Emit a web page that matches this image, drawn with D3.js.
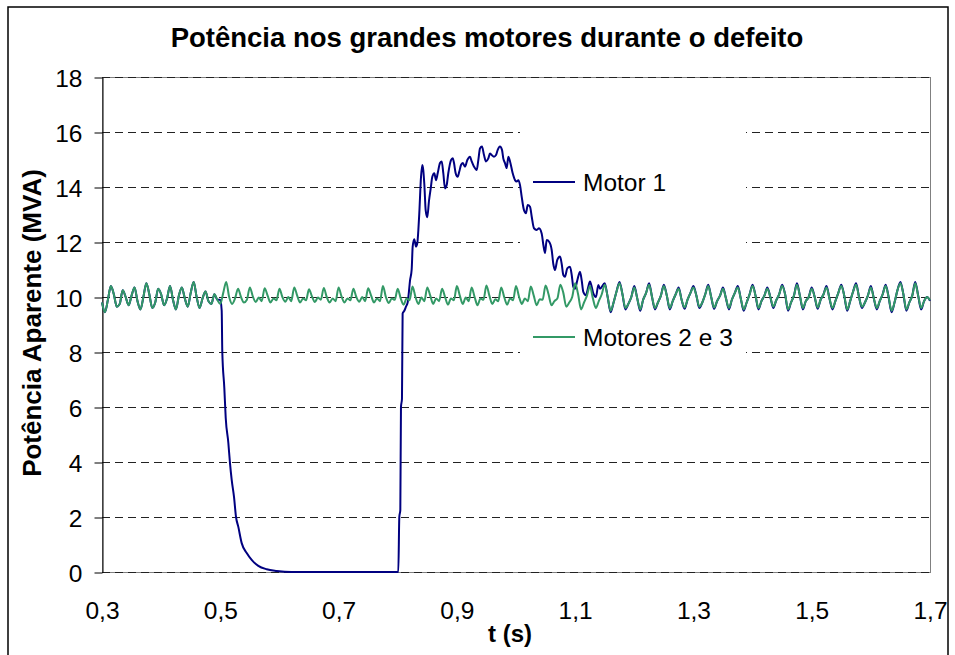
<!DOCTYPE html>
<html>
<head>
<meta charset="utf-8">
<script src="https://cdn.jsdelivr.net/npm/d3@7"></script>
<style>
  html, body { margin: 0; padding: 0; background: #fff; }
  svg { display: block; font-family: "Liberation Sans", Arial, Helvetica, sans-serif; }
</style>
</head>
<body>
<svg id="chart" width="955" height="655"></svg>
<script>
// ---- texts ----
const chartTitle = "Potência nos grandes motores durante o defeito";
const yTitle = "Potência Aparente (MVA)";
const xTitle = "t (s)";
const seriesNames = ["Motor 1", "Motores 2 e 3"];

// ---- axes ----
const xTicks = [0.3, 0.5, 0.7, 0.9, 1.1, 1.3, 1.5, 1.7];
const yTicks = [0, 2, 4, 6, 8, 10, 12, 14, 16, 18];

// ---- sampling of the regular traces (s) ----
const tStart = 0.3;
const tStep = 0.005;

// Motores 2 e 3 : apparent power (MVA), one value every 5 ms from 0.300 s to 1.700 s
const motores23 = [
  9.80, 9.45, 9.90, 10.40, 10.10, 9.65, 9.75, 10.25, 10.00, 9.70,
  10.05, 10.35, 9.85, 9.55, 10.00, 10.50, 10.10, 9.60, 9.80, 10.30,
  10.10, 9.70, 9.95, 10.40, 9.90, 9.55, 10.05, 10.35, 9.95, 9.65,
  10.15, 10.55, 10.00, 9.60, 9.95, 10.20, 9.85, 9.75, 10.10, 9.90,
  9.75, 10.15, 10.55, 10.00, 9.75, 9.95, 10.30, 10.00, 9.80, 9.90,
  10.35, 10.02, 9.82, 9.98, 9.85, 10.32, 10.05, 9.80, 9.95, 9.88,
  10.30, 10.00, 9.83, 10.00, 9.85, 10.35, 10.05, 9.80, 9.95, 9.88,
  10.28, 10.02, 9.82, 9.98, 9.90, 10.33, 10.00, 9.80, 9.95, 9.85,
  10.35, 10.02, 9.80, 9.95, 9.88, 10.30, 10.00, 9.83, 10.00, 9.85,
  10.32, 10.05, 9.80, 9.95, 9.85, 10.40, 10.00, 9.78, 9.95, 9.90,
  10.30, 9.95, 9.72, 9.95, 9.88, 10.38, 10.00, 9.75, 9.98, 9.85,
  10.35, 10.05, 9.75, 9.95, 9.85, 10.30, 10.00, 9.72, 9.95, 9.88,
  10.40, 10.05, 9.75, 9.98, 9.85, 10.35, 10.00, 9.70, 9.95, 9.90,
  10.42, 10.05, 9.75, 9.92, 9.85, 10.35, 10.00, 9.72, 9.95, 9.88,
  10.40, 10.02, 9.75, 9.95, 9.85, 10.38, 10.05, 9.70, 9.92, 9.90,
  10.42, 10.10, 9.70, 9.85, 9.95, 10.45, 10.15, 9.65, 9.80, 10.00,
  10.50, 10.10, 9.55, 9.80, 10.05, 10.40, 9.95, 9.60, 9.85, 10.10,
  10.45, 10.00, 9.50, 9.80, 10.20, 10.50, 10.10, 9.60, 9.75, 10.00,
  10.35, 9.95, 9.55, 9.90, 10.15, 10.45, 10.00, 9.60, 9.80, 10.05,
  10.40, 10.05, 9.60, 9.85, 10.10, 10.30, 9.90, 9.62, 9.90, 10.15,
  10.35, 10.05, 9.65, 9.80, 10.10, 10.40, 10.00, 9.62, 9.85, 10.05,
  10.30, 9.95, 9.60, 9.90, 10.15, 10.35, 9.95, 9.55, 9.80, 10.10,
  10.40, 10.05, 9.60, 9.85, 10.05, 10.30, 10.00, 9.65, 9.88, 10.10,
  10.40, 10.10, 9.55, 9.80, 10.05, 10.45, 10.05, 9.60, 9.85, 10.00,
  10.30, 10.00, 9.62, 9.90, 10.10, 10.35, 9.95, 9.60, 9.85, 10.15,
  10.40, 10.05, 9.55, 9.85, 10.20, 10.45, 10.00, 9.65, 9.80, 10.05,
  10.35, 9.95, 9.60, 9.85, 10.10, 10.40, 10.00, 9.50, 9.80, 10.25,
  10.50, 10.10, 9.55, 9.80, 10.05, 10.50, 10.05, 9.60, 9.85, 10.00,
  9.88
];

// Motor 1 : before the fault it carries the same load as motors 2 and 3
const motor1FaultStart = 0.5;
// Motor 1 during the fault and the re-acceleration: [t (s), MVA]
const motor1Fault = [
  [0.5000, 9.90], [0.5024, 9.50], [0.5034, 8.00], [0.5068, 6.70], [0.5092, 5.60],
  [0.5136, 4.70], [0.5164, 3.96], [0.5193, 3.35], [0.5232, 2.73], [0.5266, 2.00],
  [0.5305, 1.64], [0.5362, 1.05], [0.5447, 0.69], [0.5531, 0.44], [0.5643, 0.22],
  [0.5785, 0.10], [0.5954, 0.04], [0.6200, 0.00], [0.8010, 0.00], [0.8027, 2.00],
  [0.8044, 2.25], [0.8055, 6.00], [0.8072, 6.30], [0.8083, 9.40], [0.8112, 9.50],
  [0.8140, 9.65], [0.8168, 9.80], [0.8185, 10.10], [0.8208, 10.60], [0.8236, 11.00],
  [0.8253, 11.83], [0.8280, 12.10], [0.8309, 11.83], [0.8331, 11.95], [0.8348, 12.40],
  [0.8365, 13.05], [0.8394, 14.37], [0.8416, 14.80], [0.8433, 14.60], [0.8450, 14.10],
  [0.8473, 13.15], [0.8500, 12.90], [0.8529, 13.50], [0.8558, 13.95], [0.8585, 14.37],
  [0.8619, 14.50], [0.8647, 14.25], [0.8676, 14.50], [0.8715, 14.87], [0.8744, 14.93],
  [0.8771, 14.50], [0.8800, 13.95], [0.8828, 14.07], [0.8855, 14.50], [0.8901, 14.98],
  [0.8930, 15.05], [0.8952, 14.87], [0.8980, 14.50], [0.9014, 14.37], [0.9041, 14.56],
  [0.9070, 14.80], [0.9099, 14.87], [0.9138, 14.74], [0.9177, 14.98], [0.9222, 15.10],
  [0.9251, 14.93], [0.9290, 14.74], [0.9336, 14.62], [0.9363, 14.98], [0.9391, 15.40],
  [0.9425, 15.47], [0.9459, 15.16], [0.9493, 14.93], [0.9532, 15.04], [0.9560, 15.22],
  [0.9589, 15.16], [0.9628, 15.10], [0.9662, 15.16], [0.9691, 15.35], [0.9729, 15.47],
  [0.9763, 15.35], [0.9785, 15.04], [0.9814, 14.87], [0.9843, 14.69], [0.9870, 15.10],
  [0.9899, 14.93], [0.9944, 14.50], [0.9983, 14.25], [1.0012, 14.20], [1.0039, 14.25],
  [1.0068, 14.07], [1.0096, 13.65], [1.0135, 13.16], [1.0169, 13.05], [1.0198, 13.35],
  [1.0237, 13.28], [1.0266, 12.92], [1.0304, 12.50], [1.0350, 12.44], [1.0389, 12.50],
  [1.0435, 12.30], [1.0462, 11.90], [1.0490, 11.60], [1.0519, 12.07], [1.0563, 12.00],
  [1.0604, 11.70], [1.0631, 11.20], [1.0659, 10.98], [1.0698, 11.35], [1.0744, 11.47],
  [1.0773, 11.20], [1.0800, 10.80], [1.0828, 10.74], [1.0867, 11.04], [1.0913, 11.10],
  [1.0942, 10.80], [1.0969, 10.37], [1.0997, 10.30], [1.1036, 10.60], [1.1082, 10.92],
  [1.1111, 10.60], [1.1138, 10.19], [1.1183, 10.07], [1.1222, 10.37], [1.1251, 10.56],
  [1.1280, 10.37], [1.1307, 10.13], [1.1352, 10.00], [1.1392, 10.44], [1.1420, 10.30]
];
// Motor 1 after recovery, one value every 5 ms from 1.150 s to 1.700 s
const motor1TailStart = 1.15;
const motor1Tail = [
  10.50, 10.00, 9.45, 9.80, 10.20, 10.55, 10.10, 9.55, 9.75, 10.00,
  10.40, 9.95, 9.50, 9.90, 10.15, 10.50, 10.00, 9.55, 9.80, 10.05,
  10.45, 10.05, 9.55, 9.85, 10.10, 10.35, 9.90, 9.57, 9.90, 10.15,
  10.40, 10.05, 9.60, 9.80, 10.10, 10.45, 10.00, 9.57, 9.85, 10.05,
  10.35, 9.95, 9.55, 9.90, 10.15, 10.40, 9.95, 9.50, 9.80, 10.10,
  10.45, 10.05, 9.55, 9.85, 10.05, 10.35, 10.00, 9.60, 9.88, 10.10,
  10.45, 10.10, 9.50, 9.80, 10.05, 10.50, 10.05, 9.55, 9.85, 10.00,
  10.35, 10.00, 9.57, 9.90, 10.10, 10.40, 9.95, 9.55, 9.85, 10.15,
  10.45, 10.05, 9.50, 9.85, 10.20, 10.50, 10.00, 9.60, 9.80, 10.05,
  10.40, 9.95, 9.55, 9.85, 10.10, 10.45, 10.00, 9.45, 9.80, 10.25,
  10.55, 10.10, 9.50, 9.80, 10.05, 10.55, 10.05, 9.55, 9.85, 10.00,
  9.86
];

// ---- colours ----
const colMotor1 = "#000080";
const colMotores23 = "#339966";

// ---- build point lists ----
const green = motores23.map((v, i) => [tStart + i * tStep, v]);
const blue = []
  .concat(green.filter(d => d[0] < motor1FaultStart - 1e-9))
  .concat(motor1Fault)
  .concat(motor1Tail.map((v, i) => [motor1TailStart + i * tStep, v]));

// ---- layout ----
const svg = d3.select("#chart");
const W = 955, H = 655;
const plot = { left: 102, right: 930, top: 77, bottom: 572 };
const fontAxis = 24.5;

const x = d3.scaleLinear().domain([0.3, 1.7]).range([plot.left, plot.right]);
const y = d3.scaleLinear().domain([0, 18]).range([plot.bottom, plot.top]);

svg.append("rect").attr("width", W).attr("height", H).attr("fill", "#fff");

// outer chart frame
svg.append("rect")
  .attr("x", 8).attr("y", 7)
  .attr("width", 940).attr("height", 660)
  .attr("fill", "none").attr("stroke", "#000").attr("stroke-width", 1.5);

// plot area border
svg.append("rect")
  .attr("x", plot.left + 0.5).attr("y", plot.top + 0.5)
  .attr("width", plot.right - plot.left).attr("height", plot.bottom - plot.top)
  .attr("fill", "none").attr("stroke", "#808080").attr("stroke-width", 1)
  .attr("shape-rendering", "crispEdges");

// horizontal dashed gridlines
svg.append("g").selectAll("line").data(yTicks).join("line")
  .attr("x1", plot.left).attr("x2", plot.right)
  .attr("y1", d => Math.round(y(d)) + 0.5).attr("y2", d => Math.round(y(d)) + 0.5)
  .attr("stroke", "#222").attr("stroke-width", 1)
  .attr("stroke-dasharray", "8,5")
  .attr("shape-rendering", "crispEdges");

// legend background (hides the gridlines behind the legend)
const legendBox = { x: 520, y: 100, w: 226, h: 285 };
svg.append("rect")
  .attr("x", legendBox.x).attr("y", legendBox.y)
  .attr("width", legendBox.w).attr("height", legendBox.h)
  .attr("fill", "#fff");

// y axis
const yAxis = d3.axisLeft(y).tickValues(yTicks).tickSize(8).tickSizeOuter(0).tickPadding(12);
const gy = svg.append("g")
  .attr("transform", `translate(${plot.left + 0.5},0.5)`)
  .call(yAxis);
gy.select(".domain").attr("stroke", "#000").attr("stroke-width", 1);
gy.selectAll(".tick line").attr("stroke", "#000");
gy.selectAll(".tick text")
  .attr("font-size", fontAxis).attr("fill", "#000")
  .attr("font-family", "Liberation Sans, Arial, sans-serif")
  .attr("dy", "0.38em");

// x axis labels
const xAxis = d3.axisBottom(x).tickValues(xTicks).tickSize(0).tickPadding(30)
  .tickFormat(d => d3.format(".1f")(d).replace(".", ","));
const gx = svg.append("g")
  .attr("transform", `translate(0,${plot.bottom})`)
  .call(xAxis);
gx.select(".domain").remove();
gx.selectAll(".tick text")
  .attr("font-size", fontAxis).attr("fill", "#000")
  .attr("font-family", "Liberation Sans, Arial, sans-serif");

// series
const line = d3.line().x(d => x(d[0])).y(d => y(d[1])).curve(d3.curveMonotoneX);
svg.append("path").datum(blue)
  .attr("d", line).attr("fill", "none")
  .attr("stroke", colMotor1).attr("stroke-width", 2).attr("stroke-linejoin", "round");
svg.append("path").datum(green)
  .attr("d", line).attr("fill", "none")
  .attr("stroke", colMotores23).attr("stroke-width", 2).attr("stroke-linejoin", "round");

// legend
const legendItems = [
  { name: seriesNames[0], color: colMotor1, y: 182 },
  { name: seriesNames[1], color: colMotores23, y: 337 }
];
const lg = svg.append("g").selectAll("g").data(legendItems).join("g");
lg.append("line")
  .attr("x1", 533).attr("x2", 575)
  .attr("y1", d => d.y).attr("y2", d => d.y)
  .attr("stroke", d => d.color).attr("stroke-width", 2);
lg.append("text")
  .attr("x", 583).attr("y", d => d.y + 8.5)
  .attr("font-size", fontAxis).attr("fill", "#000")
  .text(d => d.name);

// titles
svg.append("text")
  .attr("x", 487).attr("y", 47)
  .attr("text-anchor", "middle")
  .attr("font-size", 27.5).attr("font-weight", "bold")
  .text(chartTitle);

svg.append("text")
  .attr("transform", "translate(41,323) rotate(-90)")
  .attr("text-anchor", "middle")
  .attr("font-size", 26).attr("font-weight", "bold")
  .text(yTitle);

svg.append("text")
  .attr("x", 510).attr("y", 642)
  .attr("text-anchor", "middle")
  .attr("font-size", 24).attr("font-weight", "bold")
  .text(xTitle);
</script>
</body>
</html>
